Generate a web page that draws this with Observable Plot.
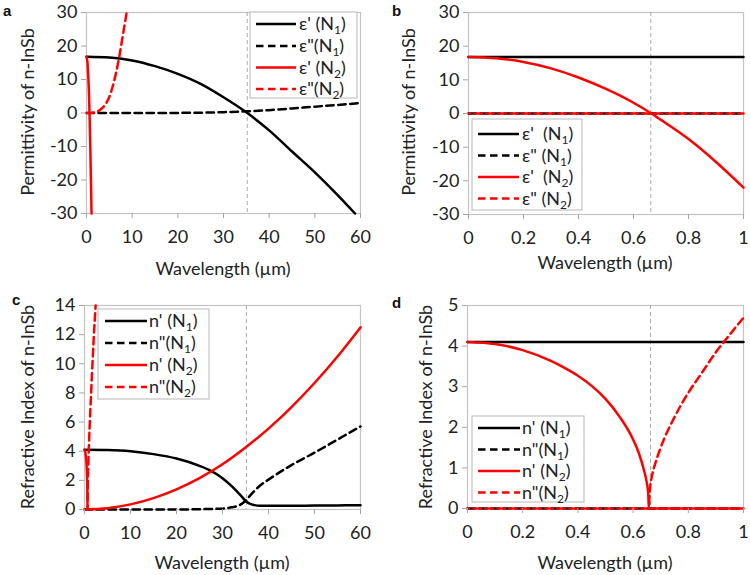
<!DOCTYPE html>
<html><head><meta charset="utf-8">
<script src="https://cdn.jsdelivr.net/npm/d3@7"></script>
<script src="https://cdn.jsdelivr.net/npm/@observablehq/plot@0.6"></script>
<style>
body{margin:0;background:#fff;}
#root{position:relative;width:750px;height:575px;overflow:hidden;}
.panel{position:absolute;}
#overlay{position:absolute;left:0;top:0;pointer-events:none;}
</style>
</head><body><div id="root"></div>
<script>
// ---------- Panel a: permittivity, wavelength 0–60 µm ----------
const aWl_epsRe_N1 = [0, 5, 10, 15, 20, 25, 30, 35, 40, 45, 50, 55, 58.8];
const aVal_epsRe_N1 = [16.8, 16.6, 15.7, 14.0, 11.7, 8.7, 4.7, 0.2, -5.2, -11.5, -17.7, -24.5, -30];
const aWl_epsIm_N1 = [0, 10, 20, 25, 30, 35, 40, 45, 50, 55, 60];
const aVal_epsIm_N1 = [0, 0, 0.03, 0.1, 0.25, 0.5, 0.85, 1.35, 1.9, 2.4, 3.0];
const aWl_epsRe_N2 = [0, 0.2, 0.4, 0.6, 0.66, 0.8, 1.0, 1.1];
const aVal_epsRe_N2 = [16.8, 15.3, 10.7, 3.2, 0, -7.6, -22, -30];
const aWl_epsIm_N2 = [0, 1, 2, 3, 4, 5, 6, 7, 8, 8.8];
const aVal_epsIm_N2 = [0, 0.03, 0.25, 0.95, 2.3, 4.8, 9.3, 15.5, 23.5, 30];

// ---------- Panel b: permittivity, wavelength 0–1 µm ----------
const bWl_epsRe_N1 = [0, 1];
const bVal_epsRe_N1 = [16.8, 16.8];
const bWl_epsIm_N1 = [0, 1];
const bVal_epsIm_N1 = [0, 0];
const bWl_epsRe_N2 = [0, 0.1, 0.2, 0.3, 0.4, 0.5, 0.6, 0.665, 0.7, 0.8, 0.9, 1.0];
const bVal_epsRe_N2 = [16.8, 16.4, 15.3, 13.4, 10.7, 7.3, 3.2, 0, -1.9, -7.6, -14.4, -22];
const bWl_epsIm_N2 = [0, 1];
const bVal_epsIm_N2 = [0, 0];

// ---------- Panel c: refractive index, wavelength 0–60 µm ----------
const cWl_nRe_N1 = [0, 5, 10, 15, 20, 25, 27.5, 30, 32, 34, 35, 36, 37, 38, 40, 45, 50, 55, 60];
const cVal_nRe_N1 = [4.1, 4.08, 4.0, 3.8, 3.5, 3.0, 2.65, 2.15, 1.6, 0.95, 0.6, 0.38, 0.3, 0.26, 0.25, 0.25, 0.27, 0.28, 0.3];
const cWl_nIm_N1 = [0, 20, 25, 30, 32, 34, 35, 36, 37, 38, 40, 45, 50, 55, 60];
const cVal_nIm_N1 = [0, 0, 0.02, 0.06, 0.15, 0.35, 0.6, 0.95, 1.3, 1.6, 2.05, 3.05, 3.9, 4.8, 5.7];
const cWl_nRe_N2 = [0, 0.2, 0.4, 0.55, 0.62, 0.66, 0.8, 1, 5, 10, 15, 20, 25, 30, 35, 40, 45, 50, 55, 60];
const cVal_nRe_N2 = [4.1, 3.9, 3.3, 2.3, 1.3, 0, 0.01, 0.01, 0.09, 0.35, 0.78, 1.38, 2.15, 3.1, 4.25, 5.55, 7.03, 8.68, 10.5, 12.5];
const cWl_nIm_N2 = [0, 0.6, 0.66, 0.7, 0.8, 1.0, 1.5, 2.0, 2.42];
const cVal_nIm_N2 = [0, 0, 0, 1.5, 2.8, 4.7, 8.4, 11.7, 14];

// ---------- Panel d: refractive index, wavelength 0–1 µm ----------
const dWl_nRe_N1 = [0, 1];
const dVal_nRe_N1 = [4.1, 4.1];
const dWl_nIm_N1 = [0, 1];
const dVal_nIm_N1 = [0, 0];
const dWl_nRe_N2 = [0, 0.1, 0.2, 0.3, 0.35, 0.4, 0.45, 0.5, 0.55, 0.6, 0.62, 0.64, 0.65, 0.655, 0.657, 0.7, 1.0];
const dVal_nRe_N2 = [4.1, 4.05, 3.9, 3.64, 3.47, 3.27, 3.02, 2.7, 2.27, 1.7, 1.38, 0.93, 0.62, 0.35, 0, 0, 0];
const dWl_nIm_N2 = [0, 0.657, 0.66, 0.67, 0.68, 0.7, 0.75, 0.8, 0.85, 0.9, 0.95, 1.0];
const dVal_nIm_N2 = [0, 0, 0.4, 0.85, 1.1, 1.5, 2.25, 2.85, 3.35, 3.85, 4.28, 4.7];

// ---------- ticks, labels, markers ----------
const ticksWide = [0, 10, 20, 30, 40, 50, 60];
const ticksNarrow = [0, 0.2, 0.4, 0.6, 0.8, 1];
const ticksEps = [-30, -20, -10, 0, 10, 20, 30];
const ticksNc = [0, 2, 4, 6, 8, 10, 12, 14];
const ticksNd = [0, 1, 2, 3, 4, 5];
const plasmaWide = [35.2];
const plasmaNarrow = [0.663];
const xTitle = "Wavelength (µm)";
const yTitleEps = "Permittivity of n-InSb";
const yTitleN = "Refractive Index of n-InSb";
const legendEps = [["ε' (N", "1"], ["ε\"(N", "1"], ["ε' (N", "2"], ["ε\"(N", "2"]];
const legendEpsB = [["ε'  (N", "1"], ["ε\" (N", "1"], ["ε'  (N", "2"], ["ε\" (N", "2"]];
const legendN = [["n' (N", "1"], ["n\"(N", "1"], ["n' (N", "2"], ["n\"(N", "2"]];

const FONT = "Lato, 'Open Sans', sans-serif";
const RED = "#ff0000", BLACK = "#000000";
const DASH = "7.5,4.5";
const rows = (xs, ys) => xs.map((x, i) => ({x, y: ys[i]}));

const styles = [
  {stroke: BLACK, dash: null},
  {stroke: BLACK, dash: DASH},
  {stroke: RED, dash: null},
  {stroke: RED, dash: DASH}
];

function panel(cfg) {
  const marks = [
    Plot.frame({stroke: "#c4c4c4", strokeWidth: 1.2}),
    Plot.ruleX(cfg.vline, {stroke: "#aaaaaa", strokeWidth: 1, strokeDasharray: "4,3"})
  ];
  cfg.series.forEach((s, i) => {
    const st = styles[i];
    marks.push(Plot.line(rows(s[0], s[1]), {
      x: "x", y: "y", stroke: st.stroke, strokeWidth: 2.5,
      strokeDasharray: st.dash, strokeDashoffset: (cfg.offsets && cfg.offsets[i]) || 0,
      curve: "monotone-x"
    }));
  });
  marks.push(Plot.axisX({ticks: cfg.xTicks, tickSize: 5, tickPadding: 12, stroke: "#a6a6a6", fill: "#222",
    tickFormat: d => String(d)}));
  marks.push(Plot.axisY({ticks: cfg.yTicks, tickSize: 5, tickPadding: 4, stroke: "#a6a6a6", fill: "#222",
    tickFormat: d => String(d)}));
  const p = Plot.plot({
    width: cfg.w, height: cfg.h,
    marginLeft: cfg.m[0], marginRight: cfg.m[1], marginTop: cfg.m[2], marginBottom: cfg.m[3],
    x: {domain: cfg.xDomain, label: null},
    y: {domain: cfg.yDomain, label: null},
    style: {fontFamily: FONT, fontSize: "18px", color: "#222", background: "transparent", overflow: "visible"},
    marks
  });
  const div = document.createElement("div");
  div.className = "panel";
  div.style.left = cfg.left + "px";
  div.style.top = cfg.top + "px";
  div.appendChild(p);
  document.getElementById("root").appendChild(div);
}

panel({left: 0, top: 0, w: 375, h: 287, m: [86, 15, 12, 74], xDomain: [0, 60], yDomain: [-30, 30],
  xTicks: ticksWide, yTicks: ticksEps, vline: plasmaWide,
  series: [[aWl_epsRe_N1, aVal_epsRe_N1], [aWl_epsIm_N1, aVal_epsIm_N1], [aWl_epsRe_N2, aVal_epsRe_N2], [aWl_epsIm_N2, aVal_epsIm_N2]]});
panel({left: 375, top: 0, w: 375, h: 287, m: [93, 7, 12, 73], xDomain: [0, 1], yDomain: [-30, 30],
  xTicks: ticksNarrow, yTicks: ticksEps, vline: plasmaNarrow, offsets: [0, 0, 0, 6],
  series: [[bWl_epsRe_N1, bVal_epsRe_N1], [bWl_epsIm_N1, bVal_epsIm_N1], [bWl_epsRe_N2, bVal_epsRe_N2], [bWl_epsIm_N2, bVal_epsIm_N2]]});
panel({left: 0, top: 287, w: 375, h: 288, m: [84, 15, 18, 66], xDomain: [0, 60], yDomain: [0, 14],
  xTicks: ticksWide, yTicks: ticksNc, vline: plasmaWide,
  series: [[cWl_nRe_N1, cVal_nRe_N1], [cWl_nIm_N1, cVal_nIm_N1], [cWl_nRe_N2, cVal_nRe_N2], [cWl_nIm_N2, cVal_nIm_N2]]});
panel({left: 375, top: 287, w: 375, h: 288, m: [92, 7, 18, 67], xDomain: [0, 1], yDomain: [0, 5],
  xTicks: ticksNarrow, yTicks: ticksNd, vline: plasmaNarrow, offsets: [0, 0, 0, 6],
  series: [[dWl_nRe_N1, dVal_nRe_N1], [dWl_nIm_N1, dVal_nIm_N1], [dWl_nRe_N2, dVal_nRe_N2], [dWl_nIm_N2, dVal_nIm_N2]]});

// ---------- overlay: titles, panel letters, legends ----------
const svg = d3.select("#root").append("svg").attr("id", "overlay")
  .attr("width", 750).attr("height", 575).style("font-family", FONT);

function title(x, y, text, rot) {
  const t = svg.append("text").attr("text-anchor", "middle").attr("dominant-baseline", "central")
    .attr("font-size", 18).attr("fill", "#222").text(text);
  if (rot) t.attr("transform", `translate(${x},${y}) rotate(-90)`);
  else t.attr("x", x).attr("y", y);
}
title(223, 268, xTitle); title(27, 112, yTitleEps, true);
title(605, 262, xTitle); title(408, 112, yTitleEps, true);
title(222, 562, xTitle); title(27, 407, yTitleN, true);
title(605, 562, xTitle); title(425, 407, yTitleN, true);

function letter(x, y, s) {
  svg.append("text").attr("x", x).attr("y", y).attr("font-family", "'Liberation Sans', Arial, sans-serif")
    .attr("font-weight", "bold").attr("font-size", 15).attr("fill", "#111").text(s);
}
letter(3, 16, "a"); letter(392, 16, "b"); letter(12, 305, "c"); letter(392, 308, "d");

function legend(box, rowsY, lx0, lx1, tx, labels) {
  svg.append("rect").attr("x", box[0]).attr("y", box[1]).attr("width", box[2] - box[0]).attr("height", box[3] - box[1])
    .attr("fill", "#fff").attr("stroke", "#c4c4c4").attr("stroke-width", 1.2);
  rowsY.forEach((y, i) => {
    const st = styles[i];
    svg.append("line").attr("x1", lx0).attr("x2", lx1).attr("y1", y).attr("y2", y)
      .attr("stroke", st.stroke).attr("stroke-width", 2.5).attr("stroke-dasharray", st.dash);
    const t = svg.append("text").attr("x", tx).attr("y", y + 6).attr("font-size", 18).attr("fill", "#222")
      .style("white-space", "pre");
    t.append("tspan").text(labels[i][0]);
    t.append("tspan").attr("dy", 4).attr("font-size", 12).text(labels[i][1]);
    t.append("tspan").attr("dy", -4).attr("font-size", 18).text(")");
  });
}
legend([250, 12, 357, 98], [24, 46, 67.5, 89], 256, 296, 299, legendEps);
legend([472, 119, 582, 210], [134, 155.5, 177, 198.5], 478, 519, 522, legendEpsB);
legend([98, 309, 209, 399], [321, 343, 365, 387], 105, 147, 149, legendN);
legend([472, 416, 584, 502], [428, 449.5, 471, 492.5], 478, 520, 522, legendN);
</script>
</body></html>
